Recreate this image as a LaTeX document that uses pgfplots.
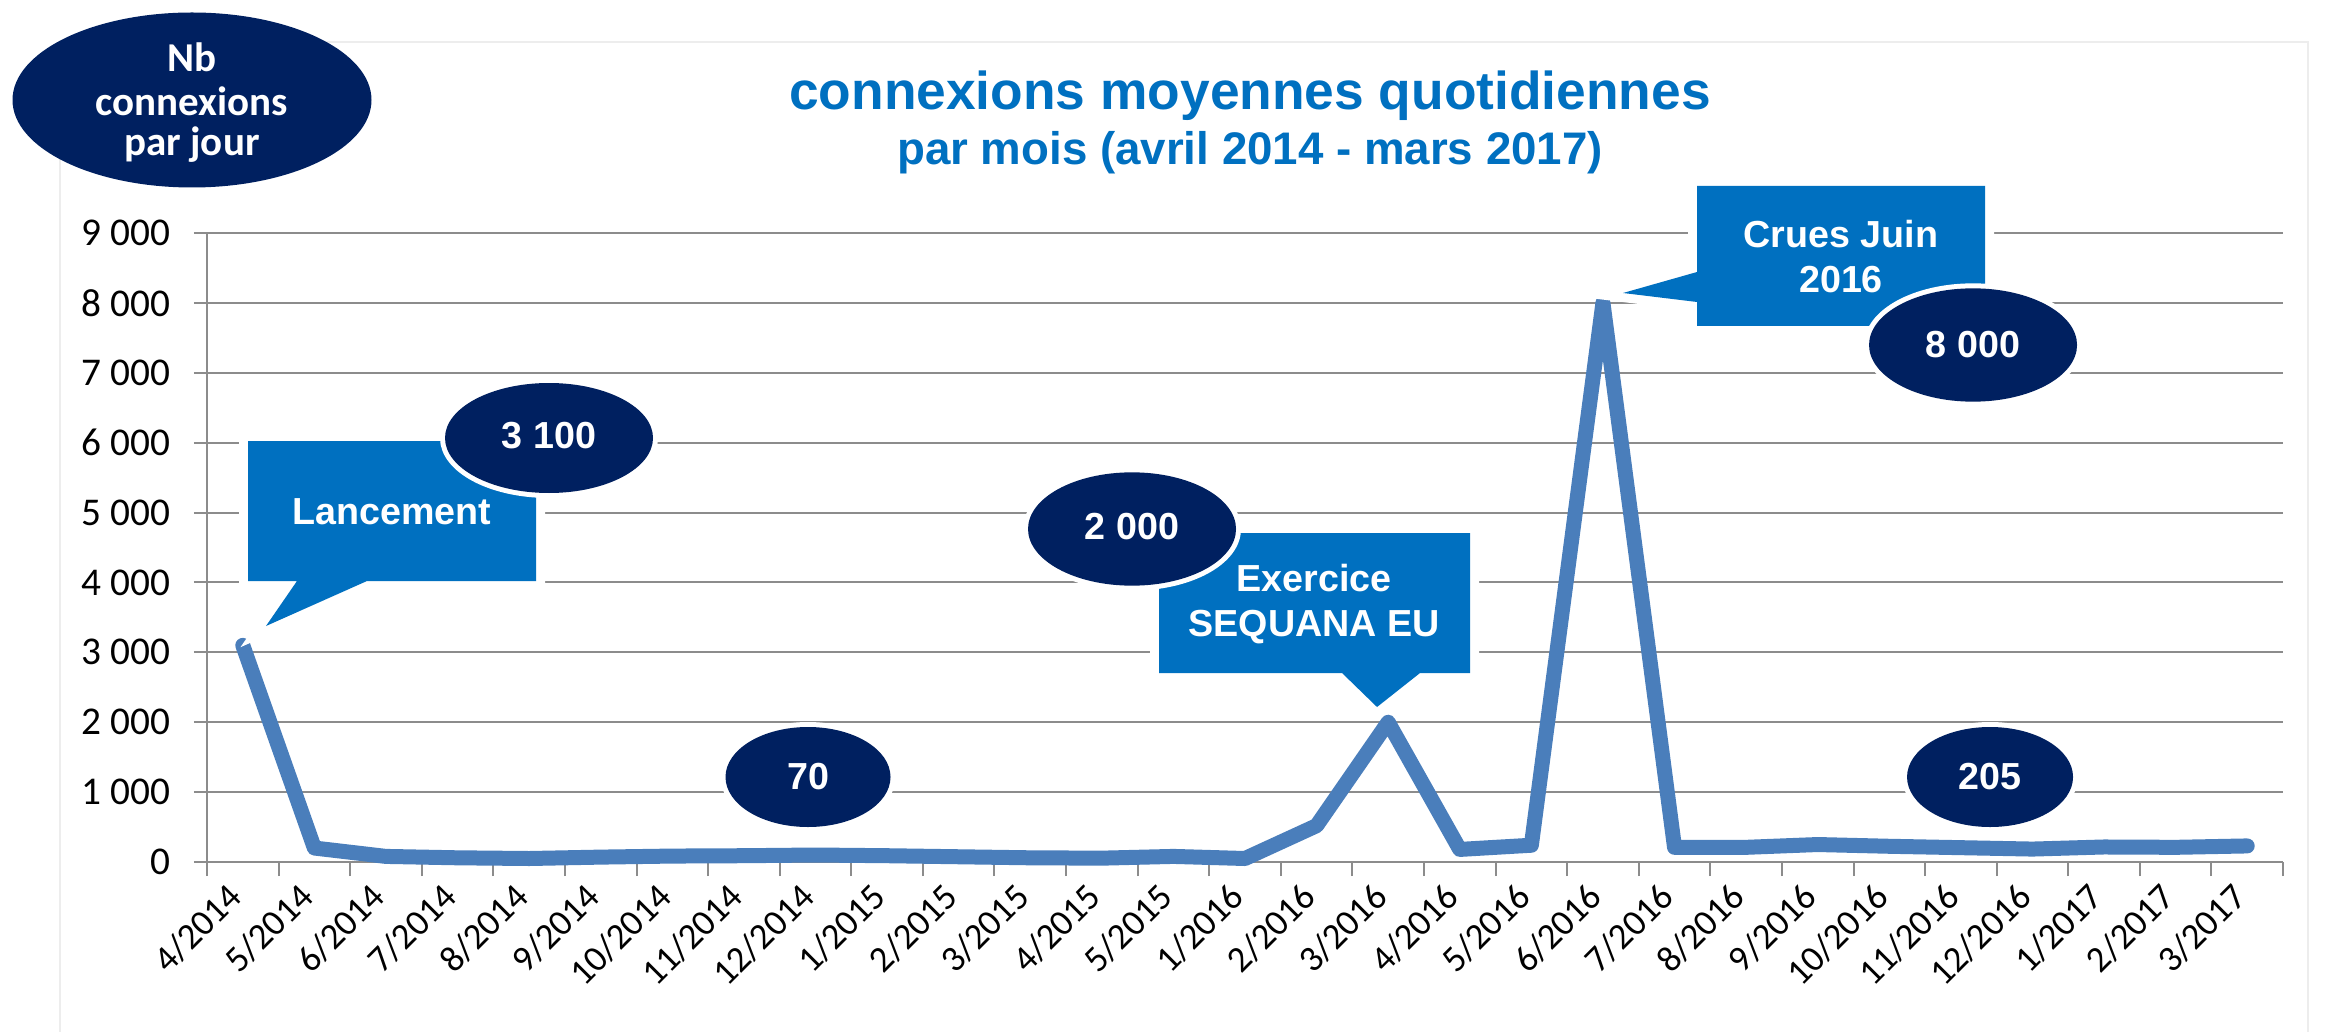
\documentclass[border=0pt]{standalone}
\usepackage{pgfplots}
\pgfplotsset{compat=1.18}
\usepackage{pgfplotstable}
\usepackage{fontspec}
\setmainfont{Liberation Sans}
\newfontfamily\carlito{Carlito}
\definecolor{titleblue}{HTML}{0070C0}
\definecolor{navy}{HTML}{002060}
\definecolor{lineblue}{HTML}{4A7EBB}
\definecolor{gridgray}{HTML}{8C8C8C}

\pgfplotstableread{
idx val
0 3100
1 200
2 80
3 60
4 50
5 70
6 85
7 90
8 100
9 90
10 75
11 60
12 55
13 80
14 50
15 520
16 2000
17 180
18 240
19 8000
20 210
21 210
22 250
23 225
24 205
25 185
26 215
27 210
28 230
}\datatable

\begin{document}
\begin{tikzpicture}
\path[use as bounding box] (0pt,0pt) rectangle (698.1pt,-309.6pt);
\begin{scope}[x=0.3pt,y=-0.3pt]
\draw[black!7, line width=0.6pt] (60,1032) -- (60,42) -- (2308,42) -- (2308,1032);
\end{scope}

\begin{axis}[
  at={(62.1pt,-258.6pt)}, anchor=south west,
  scale only axis, width=622.8pt, height=188.7pt,
  xmin=-0.5, xmax=28.5, ymin=0, ymax=9000,
  axis lines*=left,
  axis line style={draw=gridgray, line width=0.6pt},
  ytick={0,1000,...,9000},
  yticklabels={0,1 000,2 000,3 000,4 000,5 000,6 000,7 000,8 000,9 000},
  ymajorgrids, grid style={draw=gridgray, line width=0.6pt},
  xtick={0,...,28},
  xticklabels={4/2014,5/2014,6/2014,7/2014,8/2014,9/2014,10/2014,11/2014,12/2014,1/2015,2/2015,3/2015,4/2015,5/2015,1/2016,2/2016,3/2016,4/2016,5/2016,6/2016,7/2016,8/2016,9/2016,10/2016,11/2016,12/2016,1/2017,2/2017,3/2017},
  minor xtick={-0.5,0.5,...,28.5},
  tick align=outside,
  major tick length=3.9pt, minor tick length=4.2pt,
  major x tick style={draw=none},
  minor x tick style={draw=gridgray, line width=0.6pt},
  ytick style={draw=gridgray, line width=0.6pt},
  yticklabel style={font=\carlito\fontsize{11.8}{13}\selectfont, text=black, anchor=east, inner sep=0pt, xshift=-6.9pt},
  xticklabel style={font=\carlito\fontsize{11}{13}\selectfont, text=black, xshift=-5.1pt, yshift=-1.5pt, rotate=45, anchor=north east, inner sep=0pt},
  clip=false,
]
\addplot[lineblue, line width=4.5pt, line join=round, line cap=round] table[x=idx, y=val] {\datatable};
\end{axis}

\begin{scope}[x=0.3pt,y=-0.3pt]
% title
\node[text=titleblue, font=\bfseries\fontsize{16}{19}\selectfont] at (1250,96) {connexions moyennes quotidiennes};
\node[text=titleblue, font=\bfseries\fontsize{13.7}{16}\selectfont] at (1250,153) {par mois (avril 2014 - mars 2017)};
% y label ellipse
\fill[navy] (192,100) ellipse (53.85pt and 26.25pt);
\begin{scope}[every node/.style={text=white, font=\carlito\bfseries\fontsize{12.3}{14}\selectfont}]
\node at (192,57) {Nb};
\node at (192,101) {connexions};
\node at (192,145) {par jour};
\end{scope}
% callouts
\fill[titleblue, preaction={draw=white, line width=5.4pt, line join=miter}]
  (248,441) -- (536,441) -- (536,581) -- (367,581) -- (266,626) -- (297,581) -- (248,581) -- cycle;
\node[text=white, font=\bfseries\fontsize{11.3}{13.5}\selectfont] at (392,512) {Lancement};
\fill[titleblue, preaction={draw=white, line width=5.4pt, line join=miter}]
  (1159,533) -- (1470,533) -- (1470,673) -- (1420,673) -- (1377,707) -- (1342,673) -- (1159,673) -- cycle;
\node[text=white, font=\bfseries\fontsize{11.3}{13.5}\selectfont, align=center] at (1314,604) {Exercice\\SEQUANA EU};
\fill[titleblue, preaction={draw=white, line width=5.4pt, line join=miter}]
  (1697,186) -- (1985,186) -- (1985,326) -- (1697,326) -- (1697,302) -- (1623,293) -- (1697,272) -- cycle;
\node[text=white, font=\bfseries\fontsize{11.3}{13.5}\selectfont, align=center] at (1841,257) {Crues Juin\\2016};
% value ellipses
\fill[navy, preaction={draw=white, line width=3pt}] (549,438) ellipse (31.2pt and 16.5pt);
\node[text=white, font=\bfseries\fontsize{11.3}{13.5}\selectfont] at (549,436) {3 100};
\fill[navy, preaction={draw=white, line width=3pt}] (1132,529) ellipse (31.2pt and 17pt);
\node[text=white, font=\bfseries\fontsize{11.3}{13.5}\selectfont] at (1132,527) {2 000};
\fill[navy, preaction={draw=white, line width=3pt}] (1973,345) ellipse (31.2pt and 17pt);
\node[text=white, font=\bfseries\fontsize{11.3}{13.5}\selectfont] at (1973,345) {8 000};
\fill[navy, preaction={draw=white, line width=3pt}] (808,777) ellipse (24.75pt and 15pt);
\node[text=white, font=\bfseries\fontsize{11.3}{13.5}\selectfont] at (808,777) {70};
\fill[navy, preaction={draw=white, line width=3pt}] (1990,777) ellipse (24.9pt and 15pt);
\node[text=white, font=\bfseries\fontsize{11.3}{13.5}\selectfont] at (1990,777) {205};
\end{scope}
\end{tikzpicture}
\end{document}
